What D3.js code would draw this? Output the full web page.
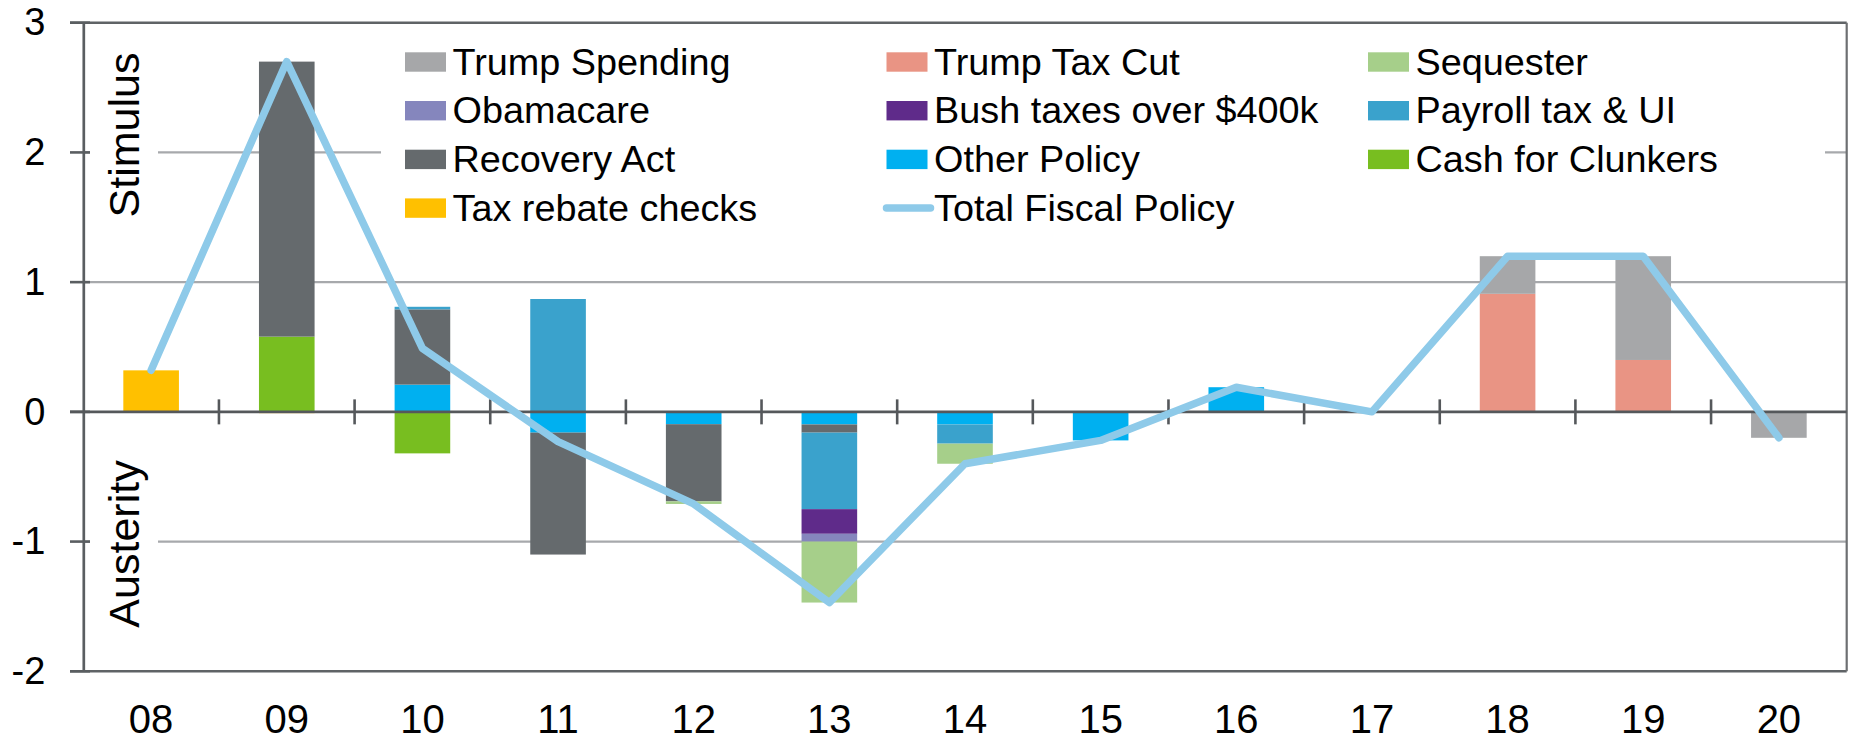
<!DOCTYPE html>
<html>
<head>
<meta charset="utf-8">
<script src="https://cdn.jsdelivr.net/npm/d3@7"></script>
<style>
  html, body { margin: 0; padding: 0; background: #fff; }
  svg { display: block; font-family: "Liberation Sans", Arial, sans-serif; }
</style>
</head>
<body>
<svg id="chart" width="1851" height="741"></svg>
<script>
// ---------------- DATA ----------------
const years = ["08","09","10","11","12","13","14","15","16","17","18","19","20"];

// Stacking order (closest to zero first)
const otherPolicy     = [0, 0, 0.21, -0.16, -0.095, -0.097, -0.097, -0.22, 0.19, 0, 0, 0, 0];
const cashForClunkers = [0, 0.58, -0.32, 0, 0, 0, 0, 0, 0, 0, 0, 0, 0];
const recoveryAct     = [0, 2.12, 0.58, -0.94, -0.595, -0.063, 0, 0, 0, 0, 0, 0, 0];
const payrollTaxUI    = [0, 0, 0.02, 0.87, 0, -0.59, -0.148, 0, 0, 0, 0, 0, 0];
const bushTaxes       = [0, 0, 0, 0, 0, -0.19, 0, 0, 0, 0, 0, 0, 0];
const obamacare       = [0, 0, 0, 0, 0, -0.06, 0, 0, 0, 0, 0, 0, 0];
const sequester       = [0, 0, 0, 0, -0.02, -0.47, -0.155, 0, 0, 0, 0, 0, 0];
const trumpTaxCut     = [0, 0, 0, 0, 0, 0, 0, 0, 0, 0, 0.91, 0.40, 0];
const trumpSpending   = [0, 0, 0, 0, 0, 0, 0, 0, 0, 0, 0.29, 0.80, -0.20];
const taxRebateChecks = [0.32, -0.01, 0, 0, 0, 0, 0, 0, 0, 0, 0, 0, 0];

const totalFiscalPolicy = [0.32, 2.70, 0.49, -0.23, -0.71, -1.47, -0.40, -0.22, 0.19, 0, 1.20, 1.20, -0.20];

const yTicks = [-2, -1, 0, 1, 2, 3];

const seriesNames = ["Other Policy","Cash for Clunkers","Recovery Act","Payroll tax & UI",
  "Bush taxes over $400k","Obamacare","Sequester","Trump Tax Cut","Trump Spending","Tax rebate checks"];
const seriesValues = [otherPolicy, cashForClunkers, recoveryAct, payrollTaxUI, bushTaxes,
  obamacare, sequester, trumpTaxCut, trumpSpending, taxRebateChecks];
const seriesColors = ["#00b0f0","#78be20","#656a6d","#3aa2cc","#5f2b8a","#8586bd","#a6cf8a","#e99484","#a6a7a9","#ffc000"];

const legendOrder = ["Trump Spending","Trump Tax Cut","Sequester",
  "Obamacare","Bush taxes over $400k","Payroll tax & UI",
  "Recovery Act","Other Policy","Cash for Clunkers",
  "Tax rebate checks","Total Fiscal Policy"];
const lineName = "Total Fiscal Policy";
const lineColor = "#8ecae9";

// ---------------- CHART ----------------
const svg = d3.select("#chart");
const pLeft = 83.3, pRight = 1846.7, pTop = 22.7, pBottom = 671.3;

const x = d3.scaleBand().domain(years).range([pLeft, pRight]).paddingInner(0.59).paddingOuter(0.295);
const y = d3.scaleLinear().domain([-2, 3]).range([pBottom, pTop]);
const color = d3.scaleOrdinal().domain(seriesNames).range(seriesColors);

const table = years.map((yr, i) => {
  const row = { year: yr };
  seriesNames.forEach((n, k) => row[n] = seriesValues[k][i]);
  return row;
});
const stacked = d3.stack().keys(seriesNames).offset(d3.stackOffsetDiverging)(table);

// gridlines
svg.append("g").selectAll("line").data(yTicks.filter(v => v !== 0 && v !== 3 && v !== -2))
  .join("line")
  .attr("x1", pLeft).attr("x2", pRight)
  .attr("y1", d => y(d)).attr("y2", d => y(d))
  .attr("stroke", "#a7a9ac").attr("stroke-width", 2.2);

// white boxes behind legend and side labels
svg.append("rect").attr("x", 381).attr("y", 32).attr("width", 1825 - 381).attr("height", 200).attr("fill", "#fff");
svg.append("rect").attr("x", 90).attr("y", 45).attr("width", 68).attr("height", 180).attr("fill", "#fff");
svg.append("rect").attr("x", 90).attr("y", 452).attr("width", 68).attr("height", 184).attr("fill", "#fff");

// frame: top and bottom lines
svg.append("g").selectAll("line").data([3, -2]).join("line")
  .attr("x1", 70).attr("x2", pRight)
  .attr("y1", d => y(d)).attr("y2", d => y(d))
  .attr("stroke", "#5f6366").attr("stroke-width", 2.6);
// right border
svg.append("line").attr("x1", pRight).attr("x2", pRight).attr("y1", y(3)).attr("y2", y(-2))
  .attr("stroke", "#6d6f72").attr("stroke-width", 2.2);

// bars
svg.append("g").selectAll("g").data(stacked).join("g")
  .attr("fill", d => color(d.key))
  .selectAll("rect").data(d => d).join("rect")
  .attr("x", d => x(d.data.year))
  .attr("width", x.bandwidth())
  .attr("y", d => y(Math.max(d[0], d[1])))
  .attr("height", d => Math.abs(y(d[0]) - y(d[1])));

// y axis
const yAxis = d3.axisLeft(y).tickValues(yTicks).tickSize(0).tickPadding(38)
  .tickFormat(d => String(d));
const gy = svg.append("g").attr("transform", `translate(${pLeft},0)`).call(yAxis);
gy.select(".domain").attr("stroke", "#5a5e61").attr("stroke-width", 2.7);
gy.selectAll("text").attr("font-size", 38).attr("fill", "#000").attr("font-family", "Liberation Sans, Arial, sans-serif");
// y tick marks
svg.append("g").selectAll("line").data(yTicks).join("line")
  .attr("x1", 70).attr("x2", 90)
  .attr("y1", d => y(d)).attr("y2", d => y(d))
  .attr("stroke", "#5a5e61").attr("stroke-width", 2.6);

// zero line
svg.append("line").attr("x1", 70).attr("x2", pRight).attr("y1", y(0)).attr("y2", y(0))
  .attr("stroke", "#55585b").attr("stroke-width", 2.8);
// category boundary ticks on zero line
const step = x.step();
svg.append("g").selectAll("line").data(years.slice(1)).join("line")
  .attr("x1", d => x(d) - (step - x.bandwidth()) / 2)
  .attr("x2", d => x(d) - (step - x.bandwidth()) / 2)
  .attr("y1", y(0) - 12.5).attr("y2", y(0) + 12.5)
  .attr("stroke", "#55585b").attr("stroke-width", 2.6);

// x axis labels
const xAxis = d3.axisBottom(x).tickSize(0).tickPadding(33);
const gx = svg.append("g").attr("transform", `translate(0,${pBottom})`).call(xAxis);
gx.select(".domain").remove();
gx.selectAll("text").attr("font-size", 40).attr("fill", "#000").attr("font-family", "Liberation Sans, Arial, sans-serif");

// total line
const line = d3.line().x((d, i) => x(years[i]) + x.bandwidth() / 2).y(d => y(d));
svg.append("path").datum(totalFiscalPolicy)
  .attr("d", line).attr("fill", "none")
  .attr("stroke", lineColor).attr("stroke-width", 7.5)
  .attr("stroke-linejoin", "round").attr("stroke-linecap", "round");

// side labels
svg.append("text").attr("transform", `translate(139,135) rotate(-90)`)
  .attr("text-anchor", "middle").attr("font-size", 43).text("Stimulus");
svg.append("text").attr("transform", `translate(139,544) rotate(-90)`)
  .attr("text-anchor", "middle").attr("font-size", 43).text("Austerity");

// legend
const legX0 = 405, legColW = 481.5, legY0 = 62, legRowH = 48.7;
const leg = svg.append("g").selectAll("g").data(legendOrder).join("g")
  .attr("transform", (d, i) => `translate(${legX0 + (i % 3) * legColW},${legY0 + Math.floor(i / 3) * legRowH})`);
leg.filter(d => d !== lineName).append("rect")
  .attr("x", 0).attr("y", -9.7).attr("width", 41).attr("height", 19.4)
  .attr("fill", d => color(d));
leg.filter(d => d === lineName).append("line")
  .attr("x1", 0).attr("x2", 44).attr("y1", 0).attr("y2", 0)
  .attr("stroke", lineColor).attr("stroke-width", 7.5).attr("stroke-linecap", "round");
leg.append("text").attr("x", 47.5).attr("y", 12.5).attr("font-size", 37.8).attr("fill", "#000")
  .text(d => d);
</script>
</body>
</html>
